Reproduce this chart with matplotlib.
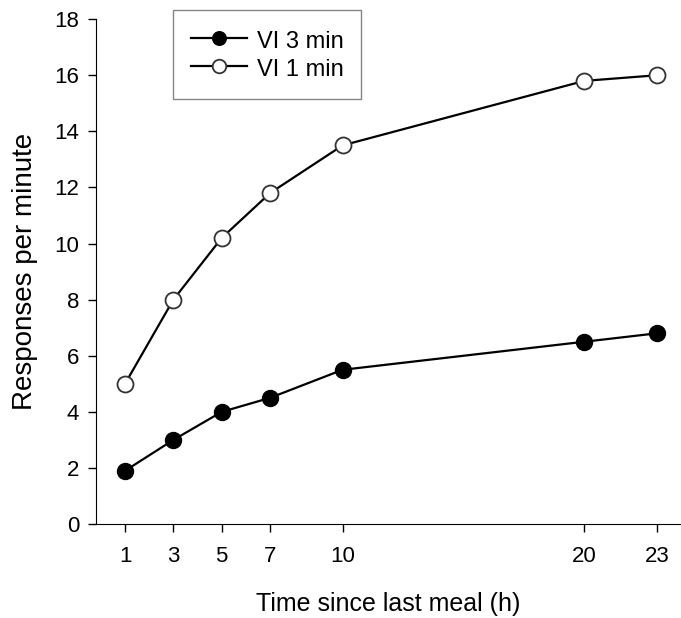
import matplotlib.pyplot as plt

plt.rcParams['font.family'] = ['Liberation Sans', 'DejaVu Sans']

hours = [1, 3, 5, 7, 10, 20, 23]
vi3 = [1.9, 3.0, 4.0, 4.5, 5.5, 6.5, 6.8]
vi1 = [5.0, 8.0, 10.2, 11.8, 13.5, 15.8, 16.0]
yticks = [0, 2, 4, 6, 8, 10, 12, 14, 16, 18]

fig = plt.figure(figsize=(6.81, 6.18), dpi=100)
ax = fig.add_axes([0.141, 0.152, 0.859, 0.817])

ax.plot(hours, vi3, color='black', lw=1.6, marker='o', ms=11.5,
        mfc='black', mec='black', label='VI 3 min', clip_on=False)
ax.plot(hours, vi1, color='black', lw=1.6, marker='o', ms=11.5,
        mfc='white', mec='#333333', mew=1.3, label='VI 1 min', clip_on=False)

ax.set_xlim(-0.2, 24)
ax.set_ylim(0, 18)
ax.set_xticks(hours)
ax.set_yticks(yticks)
ax.spines['top'].set_visible(False)
ax.spines['right'].set_visible(False)
ax.tick_params(direction='out', length=6, width=1, labelsize=16, pad=6)
ax.tick_params(axis='x', pad=10)

ax.set_xlabel('Time since last meal (h)', fontsize=18, labelpad=18)
ax.set_ylabel('Responses per minute', fontsize=20, labelpad=12)

leg = ax.legend(loc='upper left', bbox_to_anchor=(173 / 681, 1 - 10 / 618),
                bbox_transform=fig.transFigure, fontsize=17, frameon=True,
                fancybox=False, edgecolor='#666666', borderpad=0.75,
                handlelength=2.4, handleheight=1.25, handletextpad=0.4,
                labelspacing=0.1, markerscale=0.85, borderaxespad=0)
leg.get_frame().set_linewidth(1)

fig.savefig('out.png', dpi=100)
